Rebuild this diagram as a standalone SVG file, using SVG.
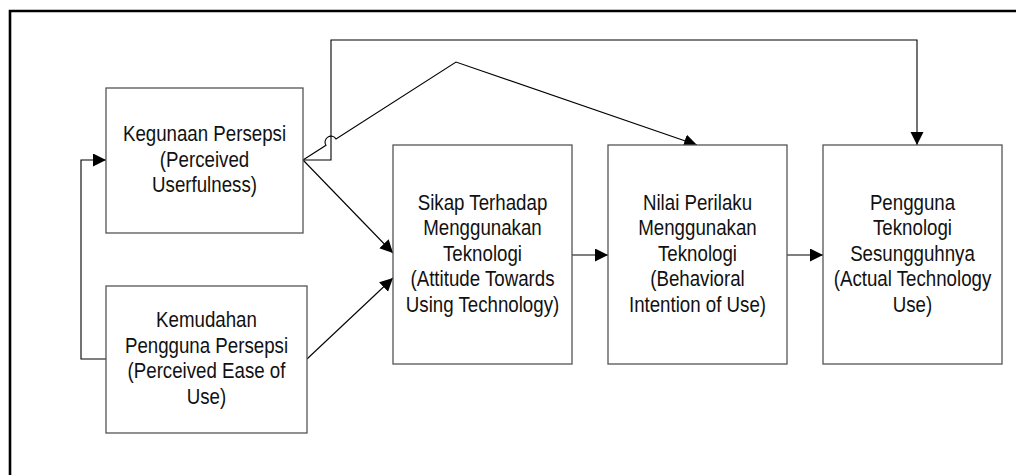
<svg xmlns="http://www.w3.org/2000/svg" width="1016" height="475" viewBox="0 0 1016 475">
<style>
.box{fill:#fff;stroke:#555;stroke-width:1.3}
.lbl{font-family:"Liberation Sans",Arial,sans-serif;font-size:22px;fill:#111;text-anchor:middle}
.con{fill:none;stroke:#000;stroke-width:1.1}
.frame{fill:none;stroke:#000;stroke-width:2.6}
</style>
<defs>
<marker id="ah" markerUnits="userSpaceOnUse" markerWidth="15" markerHeight="14" refX="13" refY="6.5" orient="auto">
<path d="M0,0 L13,6.5 L0,13 z" fill="#000"/>
</marker>
</defs>
<rect width="1016" height="475" fill="#fff"/>
<path class="frame" d="M10,475 V11 H1016"/>
<g id="connectors">
<path class="con" d="M303,160 L393,253" marker-end="url(#ah)"/>
<path class="con" d="M307,359 L393,278" marker-end="url(#ah)"/>
<path class="con" d="M106,359 H81 V160 H106" marker-end="url(#ah)"/>
<path class="con" d="M303,160 H331 V40 H917 V145" marker-end="url(#ah)"/>
<path class="con" d="M303,160 L326,145.3 A5.5,5.5 0 0 1 336,138.9 L456,62 L697,145" marker-end="url(#ah)"/>
<path class="con" d="M572,255 H608" marker-end="url(#ah)"/>
<path class="con" d="M787,255 H823" marker-end="url(#ah)"/>
</g>
<g id="node-kegunaan">
<rect class="box" x="106" y="88" width="197" height="145"/>
<g transform="translate(204.5,0) scale(0.85,1)">
<text class="lbl" x="0" y="141.5">Kegunaan Persepsi</text>
<text class="lbl" x="0" y="167">(Perceived</text>
<text class="lbl" x="0" y="192.5">Userfulness)</text>
</g>
</g>
<g id="node-kemudahan">
<rect class="box" x="106" y="286" width="201" height="147"/>
<g transform="translate(206.5,0) scale(0.85,1)">
<text class="lbl" x="0" y="327.5">Kemudahan</text>
<text class="lbl" x="0" y="353">Pengguna Persepsi</text>
<text class="lbl" x="0" y="378.5">(Perceived Ease of</text>
<text class="lbl" x="0" y="404">Use)</text>
</g>
</g>
<g id="node-sikap">
<rect class="box" x="393" y="145" width="179" height="219"/>
<g transform="translate(482.5,0) scale(0.85,1)">
<text class="lbl" x="0" y="210">Sikap Terhadap</text>
<text class="lbl" x="0" y="235.5">Menggunakan</text>
<text class="lbl" x="0" y="261">Teknologi</text>
<text class="lbl" x="0" y="286.5">(Attitude Towards</text>
<text class="lbl" x="0" y="312">Using Technology)</text>
</g>
</g>
<g id="node-nilai">
<rect class="box" x="608" y="145" width="179" height="219"/>
<g transform="translate(697.5,0) scale(0.85,1)">
<text class="lbl" x="0" y="210">Nilai Perilaku</text>
<text class="lbl" x="0" y="235.5">Menggunakan</text>
<text class="lbl" x="0" y="261">Teknologi</text>
<text class="lbl" x="0" y="286.5">(Behavioral</text>
<text class="lbl" x="0" y="312">Intention of Use)</text>
</g>
</g>
<g id="node-pengguna">
<rect class="box" x="823" y="145" width="179" height="219"/>
<g transform="translate(912.5,0) scale(0.85,1)">
<text class="lbl" x="0" y="210">Pengguna</text>
<text class="lbl" x="0" y="235.5">Teknologi</text>
<text class="lbl" x="0" y="261">Sesungguhnya</text>
<text class="lbl" x="0" y="286.5">(Actual Technology</text>
<text class="lbl" x="0" y="312">Use)</text>
</g>
</g>
</svg>
